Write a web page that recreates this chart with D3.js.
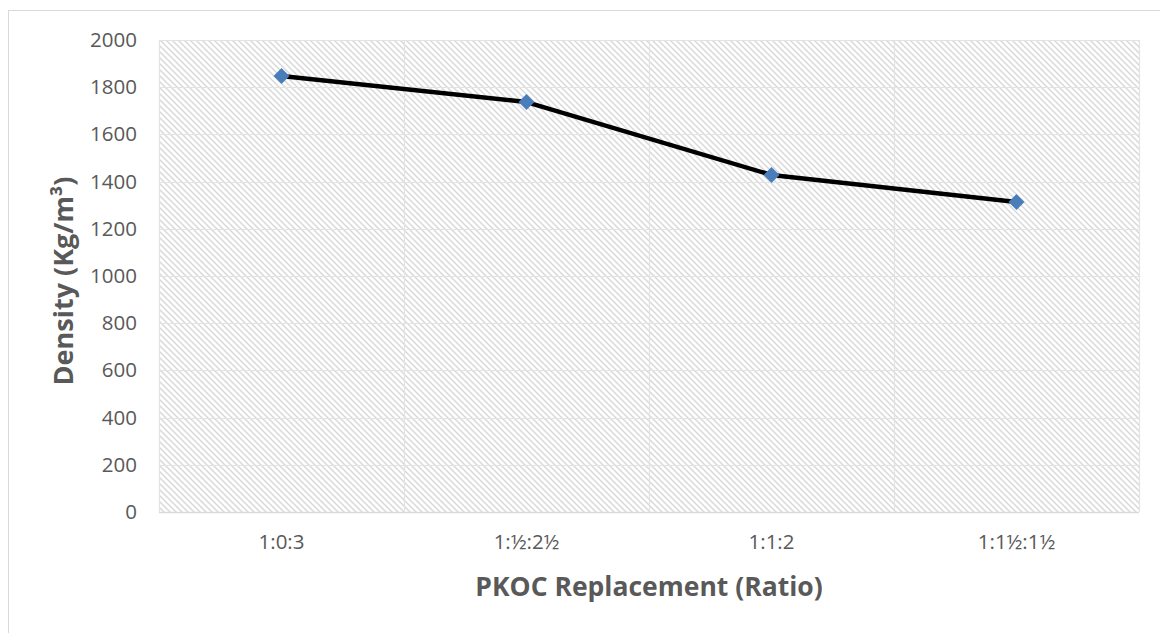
<!DOCTYPE html>
<html><head><meta charset="utf-8">
<script src="https://cdn.jsdelivr.net/npm/d3@7"></script>
<style>body{margin:0;background:#fff;} svg{display:block;} text{font-family:"Open Sans",sans-serif;}</style>
</head><body>
<svg id="c" width="1160" height="633"></svg>
<script>
const categories = ["1:0:3", "1:½:2½", "1:1:2", "1:1½:1½"];
const density = [1847, 1737, 1428, 1314];
const yTicks = [0, 200, 400, 600, 800, 1000, 1200, 1400, 1600, 1800, 2000];

const svg = d3.select("#c");
const m = {l: 159, r: 1139, t: 40, b: 512};
const FONT = "'Open Sans',sans-serif";

svg.append("rect").attr("x", 8.5).attr("y", 10.5).attr("width", 1200).attr("height", 700)
  .attr("fill", "#fff").attr("stroke", "#d9d9d9").attr("stroke-width", 1);

const defs = svg.append("defs");
const pat = defs.append("pattern").attr("id", "hatch").attr("patternUnits", "userSpaceOnUse")
  .attr("width", 6).attr("height", 6);
pat.append("rect").attr("width", 6).attr("height", 6).attr("fill", "#fff");
pat.append("path").attr("d", "M-1,-1 L7,7 M-1,5 L1,7 M5,-1 L7,1")
  .attr("stroke", "#d9d9d9").attr("stroke-width", 1.5);

const x = d3.scaleBand().domain(categories).range([m.l, m.r]);
const y = d3.scaleLinear().domain([0, 2000]).range([m.b, m.t]);

svg.append("rect").attr("x", m.l).attr("y", m.t).attr("width", m.r - m.l).attr("height", m.b - m.t)
  .attr("fill", "url(#hatch)");

svg.append("g").selectAll("line").data(yTicks).join("line")
  .attr("x1", m.l).attr("x2", m.r)
  .attr("y1", d => Math.round(y(d)) + 0.5).attr("y2", d => Math.round(y(d)) + 0.5)
  .attr("stroke", d => d === 0 ? "#d9d9d9" : "#e3e3e3").attr("stroke-width", d => d === 0 ? 1.5 : 1.2);

const bounds = categories.map(c => x(c)).concat([m.r]);
svg.append("g").selectAll("line").data(bounds).join("line")
  .attr("x1", d => Math.round(d) + 0.5).attr("x2", d => Math.round(d) + 0.5)
  .attr("y1", m.t).attr("y2", m.b)
  .attr("stroke", "#e3e3e3").attr("stroke-width", 1.2);

const yAxis = d3.axisLeft(y).tickValues(yTicks).tickFormat(d3.format("d")).tickSize(0).tickPadding(22);
const gy = svg.append("g").attr("transform", `translate(${m.l},0)`).call(yAxis);
gy.select(".domain").remove();
gy.selectAll("text").attr("font-size", 20.5).attr("fill", "#595959").style("font-family", FONT);

const xAxis = d3.axisBottom(x).tickSize(0).tickPadding(22);
const gx = svg.append("g").attr("transform", `translate(0,${m.b})`).call(xAxis);
gx.select(".domain").remove();
gx.selectAll("text").attr("font-size", 20.5).attr("fill", "#595959").style("font-family", FONT);

const cx = c => x(c) + x.bandwidth() / 2;
const pts = categories.map((c, i) => [cx(c), y(density[i])]);
svg.append("path").datum(pts).attr("d", d3.line())
  .attr("fill", "none").attr("stroke", "#000").attr("stroke-width", 4.5).attr("stroke-linejoin", "round");

svg.append("g").selectAll("path").data(pts).join("path")
  .attr("transform", d => `translate(${d[0]},${d[1]})`)
  .attr("d", "M0,-8 L8,0 L0,8 L-8,0 Z").attr("fill", "#4a7ebb");

svg.append("text").attr("x", (m.l + m.r) / 2).attr("y", 596).attr("text-anchor", "middle")
  .attr("font-size", 26.5).attr("font-weight", "bold").attr("fill", "#595959").text("PKOC Replacement (Ratio)");
svg.append("text").attr("transform", `translate(73,${(m.t + m.b) / 2 + 5}) rotate(-90)`).attr("text-anchor", "middle")
  .attr("font-size", 27).attr("font-weight", "bold").attr("fill", "#595959").text("Density (Kg/m³)");
</script>
</body></html>
